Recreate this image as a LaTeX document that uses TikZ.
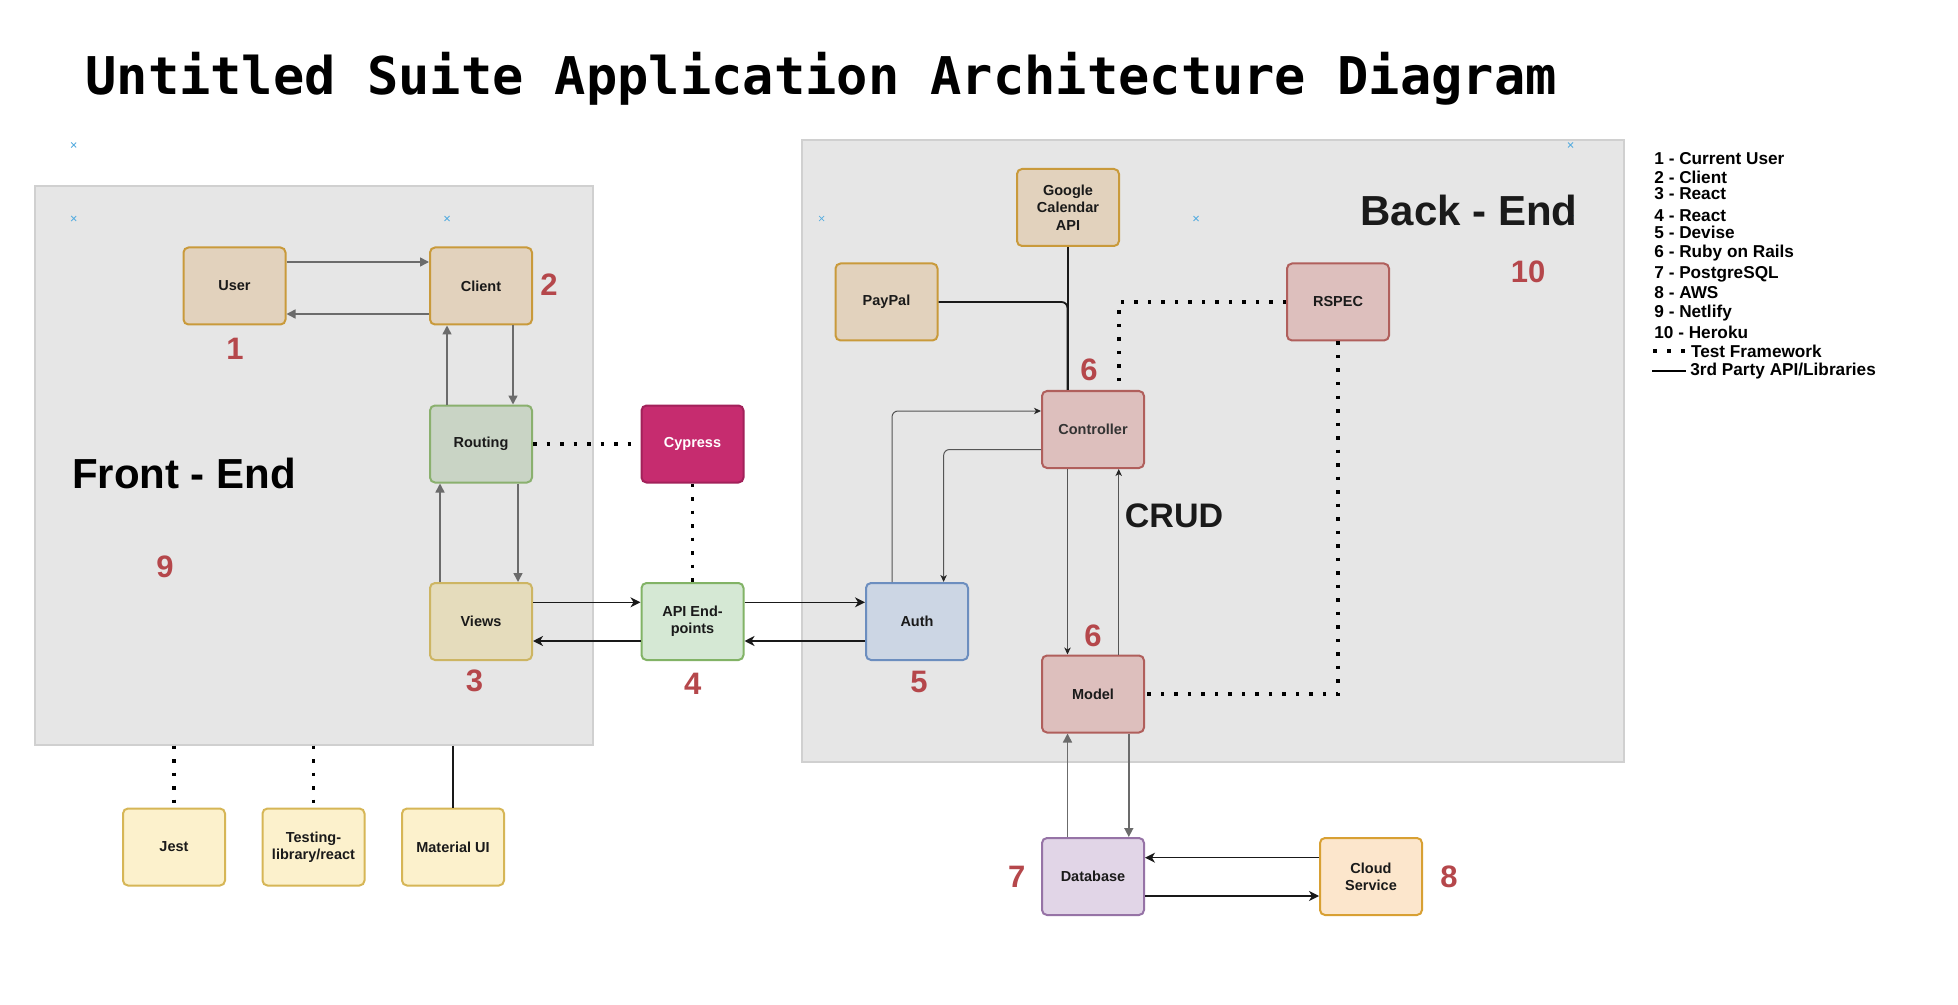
\documentclass[tikz,border=0pt]{standalone}
\usepackage{fontspec}
\setmainfont{Liberation Sans}
\newfontfamily\titlefont{DejaVu Sans Mono}
\usetikzlibrary{arrows.meta}

\definecolor{contfill}{HTML}{E6E6E6}
\definecolor{contline}{HTML}{D0D0D0}
\definecolor{txtdark}{HTML}{1A1A1A}
\definecolor{numred}{HTML}{B5474B}
\definecolor{arrgray}{HTML}{6B6B6B}
\definecolor{thingray}{HTML}{555555}
\definecolor{crossblue}{HTML}{5AAEE0}
\definecolor{tanfill}{HTML}{E2D2BD}
\definecolor{tanline}{HTML}{C99A3B}
\definecolor{routefill}{HTML}{C9D4C5}
\definecolor{routeline}{HTML}{8AB06E}
\definecolor{viewfill}{HTML}{E5DCBC}
\definecolor{viewline}{HTML}{CDB563}
\definecolor{cyfill}{HTML}{C62C6F}
\definecolor{cyline}{HTML}{A2215A}
\definecolor{apifill}{HTML}{D5E8D4}
\definecolor{apiline}{HTML}{82B366}
\definecolor{authfill}{HTML}{CCD6E4}
\definecolor{authline}{HTML}{6C8EBF}
\definecolor{redfill}{HTML}{DDBFBD}
\definecolor{redline}{HTML}{B05F5C}
\definecolor{dbfill}{HTML}{E1D5E7}
\definecolor{dbline}{HTML}{9673A6}
\definecolor{cloudfill}{HTML}{FCE6CC}
\definecolor{cloudline}{HTML}{D8A033}
\definecolor{libfill}{HTML}{FCF1CC}
\definecolor{libline}{HTML}{D6B656}

\begin{document}
\begin{tikzpicture}[x=0.5pt,y=-0.5pt,
    box/.style={draw, line width=1pt, rounded corners=2.5pt, minimum width=51pt, minimum height=38.5pt,
      inner sep=1pt, align=center, text=txtdark, font=\bfseries\fontsize{7.25}{8.65}\selectfont},
    tanbox/.style={box, fill=tanfill, draw=tanline},
    redbox/.style={box, fill=redfill, draw=redline},
    libbox/.style={box, fill=libfill, draw=libline},
    container/.style={draw=contline, fill=contfill, line width=0.6pt, inner sep=0pt},
    num/.style={text=numred, inner sep=0pt, font=\bfseries\fontsize{15.5}{15.5}\selectfont},
    bigtxt/.style={inner sep=0pt, font=\bfseries\fontsize{21}{21}\selectfont},
    legend/.style={anchor=base west, inner sep=0pt, text=black, font=\bfseries\fontsize{8.6}{8.6}\selectfont},
    grayarr/.style={draw=arrgray, line width=0.75pt, -{Triangle[length=4.5pt,width=4.5pt]}},
    blackarr/.style={draw=black!90, line width=0.75pt, -{Stealth[length=5pt,width=5pt,inset=1.5pt]}},
    thinarr/.style={draw=thingray, line width=0.5pt, rounded corners=3pt,
      -{Stealth[length=3.5pt,width=3.2pt,inset=1pt,color=black!85]}},
    testdots/.style={draw=black, line width=1.75pt, dash pattern=on 1.75pt off 5pt},
    apiline/.style={draw=black!90, line width=0.9pt, rounded corners=3pt}]

    \fill[white] (0,0) rectangle (1958,1005);
    \useasboundingbox (0,0) rectangle (1958,1005);

    % title
    \node[anchor=base west, inner sep=0pt, text=black, font=\titlefont\bfseries\fontsize{26}{26}\selectfont]
      (title) at (85,95) {Untitled Suite Application Architecture Diagram};

    % the two hosting areas
    \node[container, minimum width=279pt, minimum height=279.5pt] (fe) at (314,465.5) {};
    \node[container, minimum width=411pt, minimum height=311pt] (be) at (1213,451) {};

    % placeholder crosses
    \foreach \cx/\cy in {73.7/145, 73.7/218.5, 447/218.5, 821.6/218.5, 1196/218.5, 1570.5/145, 1571/218}
      \draw[crossblue, line width=0.4pt] (\cx-2.5,\cy-2.5) -- (\cx+2.5,\cy+2.5) (\cx-2.5,\cy+2.5) -- (\cx+2.5,\cy-2.5);

    \node[bigtxt, text=black] (fetext) at (184,473) {Front - End};
    \node[bigtxt, text=txtdark] (betext) at (1469,210) {Back - End};
    \node[text=txtdark, inner sep=0pt, font=\bfseries\fontsize{17}{17}\selectfont] (crud) at (1174,516) {CRUD};

    % front end
    \node[tanbox] (user) at (234.5,286) {User};
    \node[tanbox] (client) at (481,286) {Client};
    \node[box, fill=routefill, draw=routeline] (routing) at (481,444) {Routing};
    \node[box, fill=viewfill, draw=viewline] (views) at (481,621.5) {Views};

    % middle
    \node[box, fill=cyfill, draw=cyline, text=white] (cypress) at (692.5,444) {Cypress};
    \node[box, fill=apifill, draw=apiline] (api) at (692.5,621.5) {API End-\\points};

    % back end
    \node[tanbox] (gcal) at (1068,207.5) {Google\\Calendar\\API};
    \node[tanbox] (paypal) at (886.5,302) {PayPal};
    \node[redbox] (rspec) at (1338,302) {RSPEC};
    \node[redbox, text=black!80] (controller) at (1093,429.5) {Controller};
    \node[box, fill=authfill, draw=authline] (auth) at (917,621.5) {Auth};
    \node[redbox] (model) at (1093,694) {Model};
    \node[box, fill=dbfill, draw=dbline] (database) at (1093,876.5) {Database};
    \node[box, fill=cloudfill, draw=cloudline] (cloud) at (1371,876.5) {Cloud\\Service};

    % libraries below the front end
    \node[libbox] (jest) at (174,847) {Jest};
    \node[libbox] (testing) at (313.5,847) {Testing-\\library/react};
    \node[libbox] (material) at (453,847) {Material UI};

    % numbers
    \node[num] (n1) at (235,349) {1};
    \node[num] (n2) at (549,285) {2};
    \node[num] (n3) at (474.5,681) {3};
    \node[num] (n4) at (692.7,684) {4};
    \node[num] (n5) at (919,681.7) {5};
    \node[num] (n6a) at (1089,369.6) {6};
    \node[num] (n6b) at (1093,636) {6};
    \node[num] (n7) at (1016.7,877.3) {7};
    \node[num] (n8) at (1449,877.3) {8};
    \node[num] (n9) at (165,567) {9};
    \node[num] (n10) at (1528,272) {10};

    % front end flow
    \draw[grayarr] ([yshift=12pt]user.east) -- ([yshift=12pt]client.west);
    \draw[grayarr] ([yshift=-14pt]client.west) -- ([yshift=-14pt]user.east);
    \draw[grayarr] ([xshift=-17pt]routing.north) -- ([xshift=-17pt]client.south);
    \draw[grayarr] ([xshift=16pt]client.south) -- ([xshift=16pt]routing.north);
    \draw[grayarr] ([xshift=-20.5pt]views.north) -- ([xshift=-20.5pt]routing.south);
    \draw[grayarr] ([xshift=18.5pt]routing.south) -- ([xshift=18.5pt]views.north);

    \draw[blackarr] ([yshift=9.6pt]views.east) -- ([yshift=9.6pt]api.west);
    \draw[blackarr] ([yshift=-9.75pt]api.west) -- ([yshift=-9.75pt]views.east);
    \draw[blackarr] ([yshift=9.6pt]api.east) -- ([yshift=9.6pt]auth.west);
    \draw[blackarr] ([yshift=-9.75pt]auth.west) -- ([yshift=-9.75pt]api.east);

    % back end flow
    \draw[thinarr] ([xshift=-12.5pt]auth.north) |- ([yshift=9.25pt]controller.west);
    \draw[thinarr] ([yshift=-10pt]controller.west) -| ([xshift=13.3pt]auth.north);
    \draw[thinarr] ([xshift=-12.75pt]controller.south) -- ([xshift=-12.75pt]model.north);
    \draw[thinarr] ([xshift=12.85pt]model.north) -- ([xshift=12.85pt]controller.south);
    \draw[grayarr] ([xshift=-12.75pt]database.north) -- ([xshift=-12.75pt]model.south);
    \draw[grayarr] ([xshift=17.9pt]model.south) -- ([xshift=17.9pt]database.north);
    \draw[blackarr] ([yshift=9.4pt]cloud.west) -- ([yshift=9.4pt]database.east);
    \draw[blackarr] ([yshift=-9.75pt]database.east) -- ([yshift=-9.75pt]cloud.west);

    % 3rd party libraries
    \draw[apiline] (paypal.east) -| ([xshift=-12.75pt]controller.north);
    \draw[apiline] (gcal.south) -- (gcal.south |- controller.north);
    \draw[apiline] (material.north |- fe.south) -- (material.north);

    % test frameworks
    \draw[testdots] (routing.east) -- (cypress.west);
    \draw[testdots] (cypress.south) -- (api.north);
    \draw[testdots] (rspec.west) -| ([xshift=13pt]controller.north);
    \draw[testdots] (rspec.south) |- (model.east);
    \draw[testdots] (jest.north |- fe.south) -- (jest.north);
    \draw[testdots] (testing.north |- fe.south) -- (testing.north);

    % legend
    \foreach \yy/\txt [count=\i] in {165/1 - Current User, 183.3/2 - Client, 200/3 - React, 221.7/4 - React,
        239/5 - Devise, 257.3/6 - Ruby on Rails, 279/7 - PostgreSQL, 299/8 - AWS, 318/9 - Netlify, 339/10 - Heroku}
      \node[legend] (lg\i) at (1654,\yy) {\txt};
    \node[legend] (lgtest) at (1690.7,357.3) {Test Framework};
    \node[legend] (lglib) at (1690,376) {3rd Party API/Libraries};
    \draw[draw=black, line width=1.8pt, dash pattern=on 1.8pt off 5.2pt] (1653,351.3) -- (1685,351.3);
    \draw[draw=black, line width=1pt] (1652,370.7) -- (1686,370.7);
\end{tikzpicture}
\end{document}
